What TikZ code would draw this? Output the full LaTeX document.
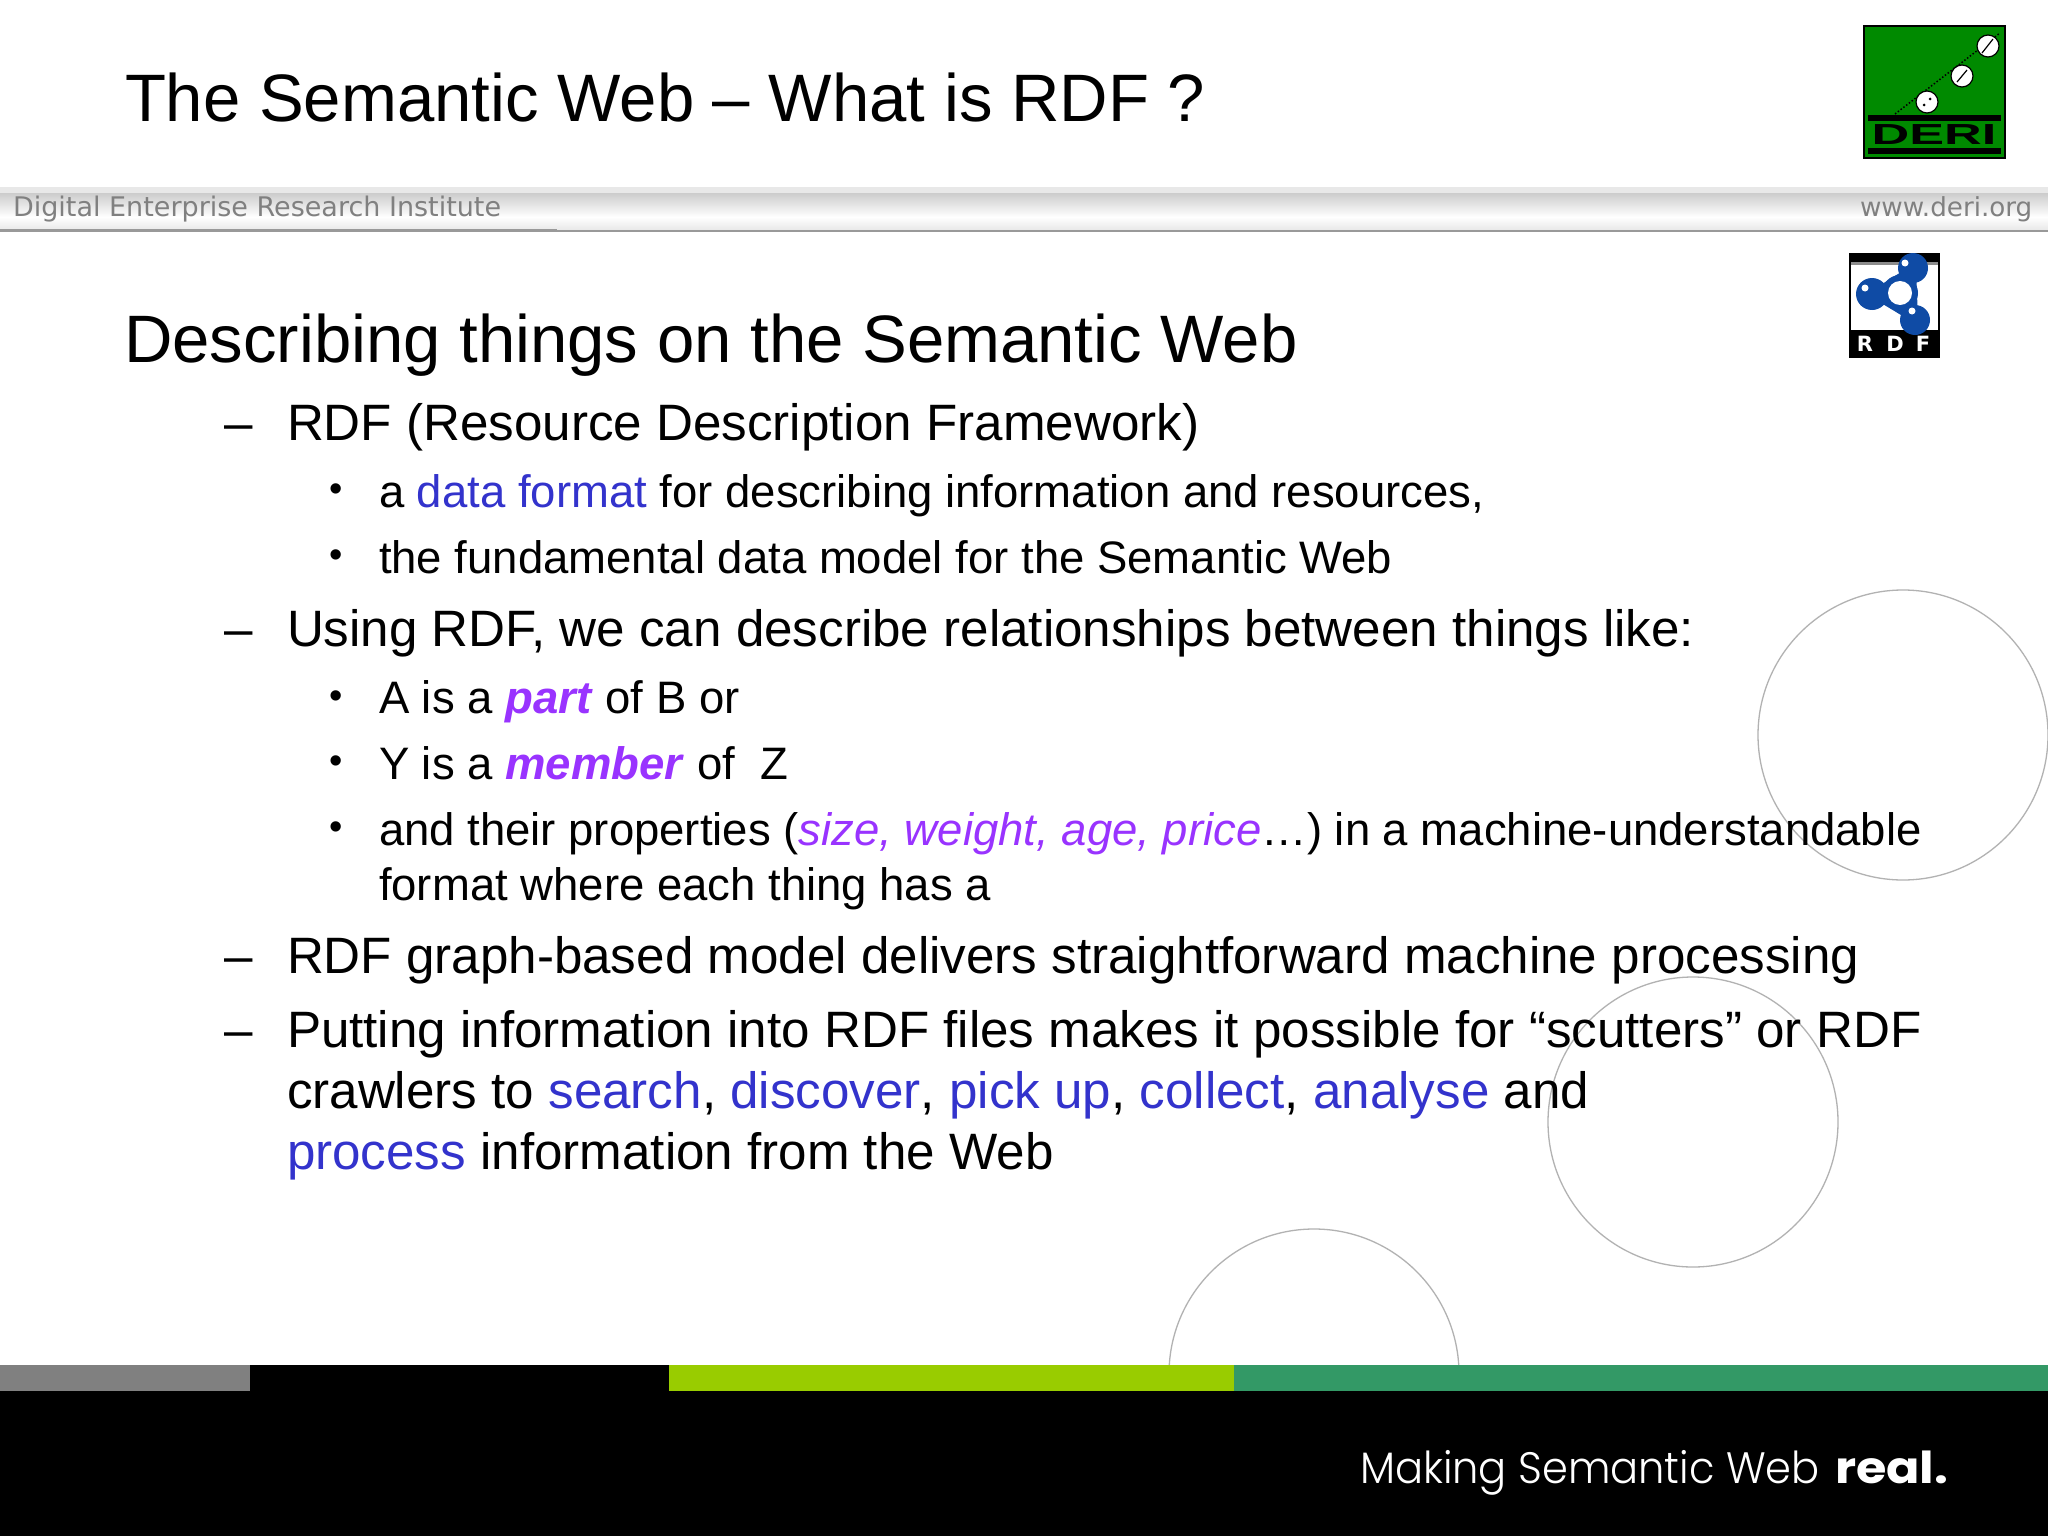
\documentclass[tikz,border=0pt]{standalone}
\usepackage{fontspec}
\setmainfont{Liberation Sans}
\newfontfamily\bandfont{DejaVu Sans}
\newfontfamily\tagfont[BoldFont={Poppins Bold}]{Poppins Light}
\definecolor{linkblue}{HTML}{3333CC}
\definecolor{termpurple}{HTML}{9933FF}
\definecolor{deriGreen}{HTML}{008A00}
\definecolor{rdfBlue}{HTML}{0F4BA5}
\definecolor{barLime}{HTML}{99CC00}
\definecolor{barTeal}{HTML}{339966}
\newcommand{\lnk}[1]{\textcolor{linkblue}{#1}}
\newcommand{\trm}[1]{\textcolor{termpurple}{\textbf{\textit{#1}}}}
\newcommand{\ita}[1]{\textcolor{termpurple}{\textit{#1}}}
\tikzset{
    slidetext/.style={anchor = base west, inner sep=0pt, outer sep=0pt},
    headline/.style={slidetext, font=\fontsize{67.1}{67.1}\selectfont},
    levelone/.style={slidetext, font=\fontsize{51.15}{51.15}\selectfont},
    leveltwo/.style={slidetext, font=\fontsize{45.5}{45.5}\selectfont},
    bulletmark/.style={slidetext, font=\fontsize{38}{38}\selectfont},
    bandtext/.style={slidetext, text=black!50, font=\bandfont\fontsize{27}{27}\selectfont},
    tagtext/.style={slidetext, text=white, font=\tagfont\fontsize{44}{44}\selectfont},
    ringline/.style={draw=black!30, line width=1.3pt},
    logoletter/.style={inner sep=0pt, text=white, font=\bandfont\bfseries\fontsize{21}{21}\selectfont},
}
\begin{document}
\begin{tikzpicture}[x=1pt, y=-1pt]
            \useasboundingbox (0,0) rectangle (2048,1536);
            \fill [white] (0,0) rectangle (2048,1536);
            % header band
            \fill [black!9] (0,187) rectangle (2048,193);
            \fill [top color=black!20, bottom color=white] (0,193) rectangle (2048,217);
            \fill [top color=white, bottom color=black!9] (0,217) rectangle (2048,230);
            \fill [black!40] (0,230) rectangle (2048,232);
            \fill [black!40] (0,229) rectangle (557,232);
            \node [bandtext] (institute) at (13,216) {Digital Enterprise Research Institute};
            \node [bandtext, font=\bandfont\fontsize{26.2}{26.2}\selectfont] (website) at (1860,216) {www.deri.org};
            % title and heading
            \node [headline] (title) at (125,122) {The Semantic Web -- What is RDF ?};
            \node [headline] (heading) at (124,362) {Describing things on the Semantic Web};
            % circles
            \foreach \cx/\cy in {1903/735, 1693/1122, 1314/1374}
                \draw [ringline] (\cx,\cy) circle (145);
            % level one lines
            \node [levelone] (dashA) at (224,440) {--};
            \node [levelone] (itemA) at (287,440) {RDF (Resource Description Framework)};
            \node [levelone] (dashB) at (224,646) {--};
            \node [levelone] (itemB) at (287,646) {Using RDF, we can describe relationships between things like:};
            \node [levelone] (dashC) at (224,973) {--};
            \node [levelone] (itemC) at (287,973) {RDF graph-based model delivers straightforward machine processing};
            \node [levelone] (dashD) at (224,1047) {--};
            \node [levelone] (itemD) at (287,1047) {Putting information into RDF files makes it possible for ``scutters'' or RDF};
            \node [levelone] (itemDb) at (287,1108) {crawlers to \lnk{search}, \lnk{discover}, \lnk{pick up}, \lnk{collect}, \lnk{analyse} and};
            \node [levelone] (itemDc) at (287,1169) {\lnk{process} information from the Web};
            % level two lines
            \foreach \bname/\by in {bulA/501, bulB/567, bulC/708, bulD/773, bulE/839}
                \node [bulletmark] (\bname) at (329,\by) {\textbullet};
            \node [leveltwo] (subA) at (379,507) {a \lnk{data format} for describing information and resources,};
            \node [leveltwo] (subB) at (379,573) {the fundamental data model for the Semantic Web};
            \node [leveltwo] (subC) at (379,713) {A is a \trm{part} of B or};
            \node [leveltwo] (subD) at (379,779) {Y is a \trm{member} of\ \ Z};
            \node [leveltwo] (subE) at (379,845) {and their properties (\ita{size, weight, age, price}\ldots) in a machine-understandable};
            \node [leveltwo] (subEb) at (379,900) {format where each thing has a};
            % footer
            \fill [black] (0,1365) rectangle (2048,1536);
            \fill [black!50] (0,1365) rectangle (250,1391);
            \fill [barLime] (669,1365) rectangle (1234,1391);
            \fill [barTeal] (1234,1365) rectangle (2048,1391);
            \node [tagtext, xscale=0.945] (tagline) at (1360,1483) {Making Semantic Web};
            \node [tagtext, xscale=1.12] (tagend) at (1835,1483) {\textbf{real.}};
            % DERI logo
            \fill [deriGreen, draw=black, line width=1.5pt] (1864,26) rectangle (2005,158);
            \fill [black] (1868,115) rectangle (2001,121);
            \fill [black] (1868,148) rectangle (2001,154);
            \draw [black, line width=1.5pt, dotted] (1895,114) -- (2000,33);
            \foreach \cx/\cy in {1988/46, 1962/76, 1927/102}
                \filldraw [fill=white, draw=black, line width=1.2pt] (\cx,\cy) circle (11);
            \draw [black, line width=1.2pt] (1982,53) -- (1993,39);
            \draw [black, line width=1.2pt] (1957,82) -- (1967,70);
            \fill [black] (1924,105) circle (1.5);
            \fill [black] (1930,99) circle (1.5);
            \node [inner sep=0pt, text=black, font=\bfseries\fontsize{29}{29}\selectfont, xscale=1.8] (deriname) at (1934,135) {DERI};
            % RDF logo
            \fill [black] (1849,253) rectangle (1940,358);
            \fill [black!45] (1851,262) rectangle (1938,265);
            \fill [white] (1851,265) rectangle (1938,330);
            \draw [rdfBlue, line width=6pt] (1872,294) -- (1913,268) -- (1915,320) -- cycle;
            \fill [rdfBlue] (1900,293) circle (18);
            \fill [white] (1900,293) circle (12);
            \fill [rdfBlue] (1872,294) circle (16);
            \fill [rdfBlue] (1913,268) circle (15);
            \fill [rdfBlue] (1915,320) circle (15);
            \fill [white] (1865,288) circle (3.5);
            \fill [white] (1905,263) circle (3.5);
            \fill [white] (1912,311) circle (3.5);
            \node [logoletter] (letterR) at (1865,344) {R};
            \node [logoletter] (letterD) at (1895,344) {D};
            \node [logoletter] (letterF) at (1923,344) {F};
\end{tikzpicture}
\end{document}
